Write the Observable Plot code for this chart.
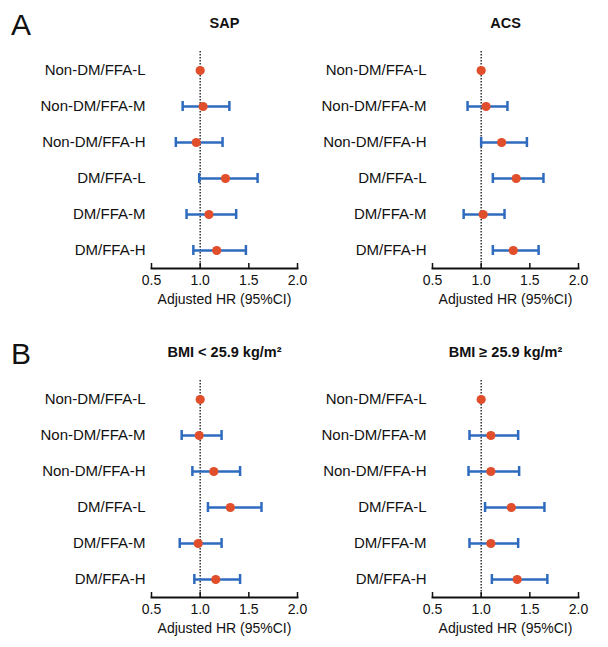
<!DOCTYPE html>
<html>
<head>
<meta charset="utf-8">
<script src="https://cdn.jsdelivr.net/npm/d3@7"></script>
<script src="https://cdn.jsdelivr.net/npm/@observablehq/plot@0.6"></script>
<style>
  html, body { margin: 0; padding: 0; background: #fff; }
  #chart { position: relative; width: 608px; height: 647px; font-family: "Liberation Sans", Arial, sans-serif; color: #111; }
  #chart svg { position: absolute; }
  .tag { position: absolute; font-size: 30px; line-height: 30px; color: #111; }
</style>
</head>
<body>
<div id="chart"></div>
<script>
// Exposure groups (rows, top to bottom)
const groups = ["Non-DM/FFA-L", "Non-DM/FFA-M", "Non-DM/FFA-H", "DM/FFA-L", "DM/FFA-M", "DM/FFA-H"];

// Panel titles
const titles = ["SAP", "ACS", "BMI < 25.9 kg/m²", "BMI ≥ 25.9 kg/m²"];
const tags = ["A", "B"];

// Adjusted hazard ratios with 95% CI (reference group has no interval)
const sapHR = [1.00, 1.03, 0.96, 1.26, 1.09, 1.17];
const sapLo = [null, 0.82, 0.75, 0.99, 0.86, 0.93];
const sapHi = [null, 1.30, 1.23, 1.59, 1.37, 1.47];

const acsHR = [1.00, 1.05, 1.21, 1.36, 1.02, 1.33];
const acsLo = [null, 0.86, 1.00, 1.12, 0.82, 1.12];
const acsHi = [null, 1.27, 1.47, 1.64, 1.24, 1.59];

const bmiLowHR = [1.00, 0.99, 1.14, 1.31, 0.98, 1.16];
const bmiLowLo = [null, 0.81, 0.92, 1.08, 0.79, 0.94];
const bmiLowHi = [null, 1.22, 1.41, 1.63, 1.22, 1.41];

const bmiHighHR = [1.00, 1.10, 1.10, 1.31, 1.10, 1.37];
const bmiHighLo = [null, 0.88, 0.87, 1.04, 0.88, 1.11];
const bmiHighHi = [null, 1.38, 1.39, 1.65, 1.38, 1.68];

// Axis settings
const xDomain = [0.5, 2.0];
const xTicks = [0.5, 1.0, 1.5, 2.0];
const xLabel = "Adjusted HR (95%CI)";
const refHR = [1];

const dotColor = "#e04e2c";
const barColor = "#2e6bbf";

function forest({title, hr, lo, hi, marginLeft, marginRight}) {
  const rows = groups.map((g, i) => ({group: g, hr: hr[i], lo: lo[i], hi: hi[i]}));
  const ci = rows.filter(d => d.lo != null);
  return Plot.plot({
    width: 304,
    height: 310,
    marginTop: 51,
    marginBottom: 42,
    marginLeft,
    marginRight,
    style: {fontFamily: "'Liberation Sans', Arial, sans-serif", color: "#111", background: "transparent", overflow: "visible"},
    x: {domain: xDomain},
    y: {type: "band", domain: groups, padding: 0},
    marks: [
      Plot.axisY({tickSize: 0, tickPadding: 6, fontSize: 15, label: null}),
      Plot.axisX(xTicks, {tickSize: -5, tickPadding: 11.5, strokeWidth: 1.5, tickFormat: d3.format(".1f"), fontSize: 14, label: null}),
      Plot.frame({anchor: "bottom", strokeWidth: 2, stroke: "#111"}),
      Plot.ruleX(refHR, {stroke: "#111", strokeWidth: 1.3, strokeDasharray: "1.5,1.5"}),
      Plot.ruleY(ci, {y: "group", x1: "lo", x2: "hi", stroke: barColor, strokeWidth: 2.5}),
      Plot.tickX(ci, {x: "lo", y: "group", stroke: barColor, strokeWidth: 2.5, insetTop: 13, insetBottom: 13}),
      Plot.tickX(ci, {x: "hi", y: "group", stroke: barColor, strokeWidth: 2.5, insetTop: 13, insetBottom: 13}),
      Plot.dot(rows, {x: "hr", y: "group", r: 4.6, fill: dotColor}),
      Plot.text([title], {frameAnchor: "top", dy: -28, lineAnchor: "middle", fontSize: 14.5, fontWeight: "bold", fill: "#111"}),
      Plot.text([xLabel], {frameAnchor: "bottom", dy: 31, lineAnchor: "middle", fontSize: 14, fill: "#111"})
    ]
  });
}

const chart = document.getElementById("chart");
const panels = [
  {title: titles[0], hr: sapHR, lo: sapLo, hi: sapHi, row: 0, col: 0},
  {title: titles[1], hr: acsHR, lo: acsLo, hi: acsHi, row: 0, col: 1},
  {title: titles[2], hr: bmiLowHR, lo: bmiLowLo, hi: bmiLowHi, row: 1, col: 0},
  {title: titles[3], hr: bmiHighHR, lo: bmiHighLo, hi: bmiHighHi, row: 1, col: 1}
];

for (const p of panels) {
  const svg = forest({
    title: p.title, hr: p.hr, lo: p.lo, hi: p.hi,
    marginLeft: p.col === 0 ? 151 : 128,
    marginRight: p.col === 0 ? 7 : 30
  });
  svg.style.left = (p.col * 304) + "px";
  svg.style.top = (p.row * 329) + "px";
  chart.appendChild(svg);
}

tags.forEach((t, i) => {
  const div = document.createElement("div");
  div.className = "tag";
  div.textContent = t;
  div.style.left = "11px";
  div.style.top = (9.6 + i * 329) + "px";
  chart.appendChild(div);
});
</script>
</body>
</html>
